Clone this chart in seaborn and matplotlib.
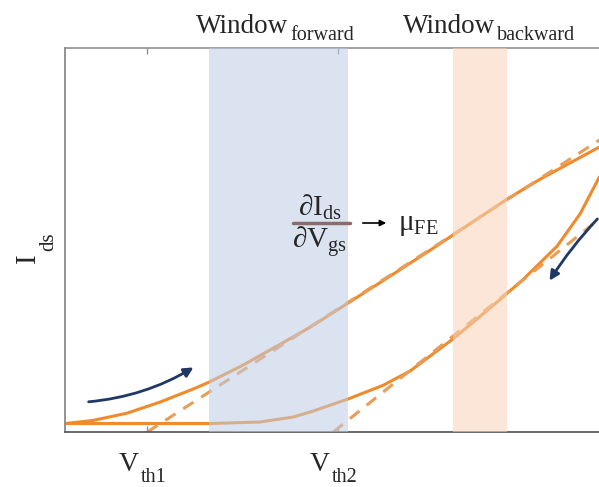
import numpy as np
import pandas as pd
import matplotlib
matplotlib.use("Agg")
import matplotlib.pyplot as plt
import seaborn as sns
from matplotlib.patches import FancyArrowPatch

# ---- data (Vgs, Ids in arbitrary units) ----
fwd_vgs = [0.00, 0.52, 1.16, 1.78, 2.40, 2.70, 3.33, 3.97, 4.59, 5.30, 6.03, 6.84, 8.28, 8.90, 10.0]
fwd_ids = [0.22, 0.30, 0.49, 0.78, 1.12, 1.30, 1.74, 2.24, 2.73, 3.36, 4.01, 4.74, 6.07, 6.59, 7.42]
bwd_vgs = [0.00, 2.70, 3.65, 4.27, 4.59, 5.30, 5.96, 6.46, 7.21, 7.64, 8.15, 8.58, 9.21, 9.64, 10.0]
bwd_ids = [0.22, 0.22, 0.26, 0.39, 0.52, 0.86, 1.22, 1.59, 2.37, 2.86, 3.46, 3.98, 4.84, 5.68, 6.64]
tan1_vgs = [1.54, 10.2]
tan1_ids = [0.00, 7.78]
tan2_vgs = [5.02, 10.2]
tan2_ids = [0.00, 5.77]
vth_ticks = [1.54, 5.11]
win_fwd = [2.69, 5.30]
win_bwd = [7.27, 8.28]

sns.set_style("white")
plt.rcParams['font.family'] = ['Liberation Serif', 'DejaVu Serif']
plt.rcParams['mathtext.fontset'] = 'custom'
plt.rcParams['mathtext.rm'] = 'Liberation Serif'
plt.rcParams['mathtext.it'] = 'Liberation Serif:italic'
plt.rcParams['mathtext.bf'] = 'Liberation Serif:bold'

W, H = 599, 487
fig = plt.figure(figsize=(W / 100, H / 100), dpi=100)
ax = fig.add_axes([65 / W, 55 / H, (610 - 65) / W, 384 / H])

orange = '#f08a2a'
dash_c = '#e89d58'
navy = '#1f3864'

df_f = pd.DataFrame({'Vgs': fwd_vgs, 'Ids': fwd_ids})
df_b = pd.DataFrame({'Vgs': bwd_vgs, 'Ids': bwd_ids})
sns.lineplot(data=df_f, x='Vgs', y='Ids', ax=ax, color=orange, lw=2.2, sort=False, zorder=2)
sns.lineplot(data=df_b, x='Vgs', y='Ids', ax=ax, color=orange, lw=2.2, sort=False, zorder=2)
ax.plot(tan1_vgs, tan1_ids, color=dash_c, lw=2.2, ls=(0, (4, 3)), zorder=2)
ax.plot(tan2_vgs, tan2_ids, color=dash_c, lw=2.2, ls=(0, (4, 3)), zorder=2)

# windows (drawn over the curves, semi-transparent)
ax.axvspan(win_fwd[0], win_fwd[1], color='#bfcce4', alpha=0.55, lw=0, zorder=3)
ax.axvspan(win_bwd[0], win_bwd[1], color='#f8d2b8', alpha=0.55, lw=0, zorder=3)

ax.set_xlim(0, 10.2)
ax.set_ylim(0, 10)
ax.set_xlabel('')
ax.set_ylabel('')
ax.set_yticks([])
ax.set_xticks(vth_ticks)
ax.set_xticklabels(['', ''])
ax.tick_params(axis='x', which='both', direction='in', length=4, width=1,
               color='#909090', top=True, bottom=True)

ax.spines['left'].set_color('#808080')
ax.spines['top'].set_color('#909090')
ax.spines['bottom'].set_color('#505050')
ax.spines['right'].set_visible(False)
for s in ['left', 'top', 'bottom']:
    ax.spines[s].set_linewidth(1.2)

# sweep arrows
a1 = FancyArrowPatch((0.39, 0.78), (2.45, 1.72), connectionstyle='arc3,rad=0.12',
                     arrowstyle='-|>', mutation_scale=14, lw=2, color=navy, zorder=4)
ax.add_patch(a1)
a2 = FancyArrowPatch((10.0, 5.6), (9.04, 3.88), connectionstyle='arc3,rad=0.05',
                     arrowstyle='-|>', mutation_scale=14, lw=2, color=navy, zorder=4)
ax.add_patch(a2)

def fx(px):
    return px / W

def fy(py):
    return 1 - py / H

# window titles
fig.text(fx(196), fy(33), 'Window', ha='left', va='baseline', fontsize=19.5)
fig.text(fx(290), fy(40), 'forward', ha='left', va='baseline', fontsize=14.5)
fig.text(fx(403), fy(33), 'Window', ha='left', va='baseline', fontsize=19.5)
fig.text(fx(497), fy(40), 'backward', ha='left', va='baseline', fontsize=14.5)

# threshold labels
fig.text(fx(129), fy(471), 'V', ha='center', va='baseline', fontsize=20)
fig.text(fx(141), fy(482), 'th1', ha='left', va='baseline', fontsize=14.5)
fig.text(fx(320), fy(471), 'V', ha='center', va='baseline', fontsize=20)
fig.text(fx(332), fy(482), 'th2', ha='left', va='baseline', fontsize=14.5)

# y label (rotated)
fig.text(fx(35), fy(263), 'I', ha='left', va='baseline', fontsize=21, rotation=90,
         rotation_mode='anchor')
fig.text(fx(53), fy(251), 'ds', ha='left', va='baseline', fontsize=15, rotation=90,
         rotation_mode='anchor')

# derivative expression
fig.text(fx(320), fy(207), r'$\partial\mathrm{I}_{\mathrm{ds}}$', ha='center', va='center', fontsize=21)
fig.text(fx(320), fy(243), r'$\partial\mathrm{V}_{\mathrm{gs}}$', ha='center', va='center', fontsize=21)
fig.add_artist(plt.Line2D([fx(293), fx(350)], [fy(223), fy(223)], color='#8b6b6b', lw=2.5))
fig.add_artist(FancyArrowPatch((fx(360), fy(223)), (fx(389), fy(223)), transform=fig.transFigure,
                               arrowstyle='-|>', mutation_scale=9, lw=1.2, color='black'))
fig.text(fx(398), fy(225), r'μ$_{\mathrm{FE}}$', ha='left', va='center', fontsize=21)

fig.savefig('out.png', dpi=100)
